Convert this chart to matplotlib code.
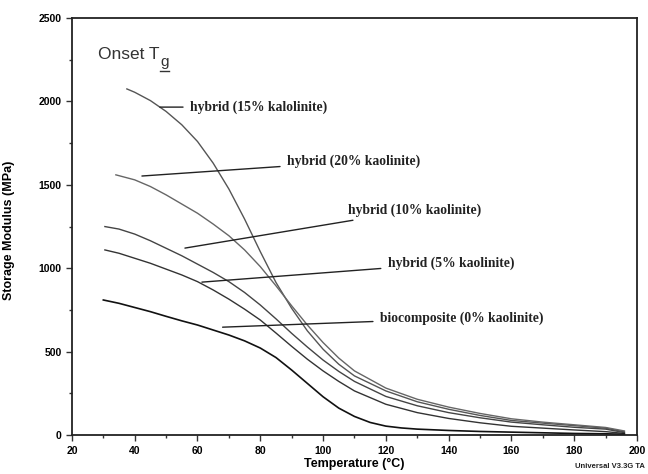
import matplotlib
matplotlib.use("Agg")
import matplotlib.pyplot as plt

# storage modulus (MPa) vs temperature (C)
t_15 = [37.5, 40, 45, 50, 55, 60, 65, 70, 75, 80, 85, 90, 95, 100, 105, 110,
        120, 130, 140, 150, 160, 170, 180, 190, 196]
m_15 = [2075, 2055, 2005, 1940, 1860, 1760, 1630, 1475, 1295, 1100, 915, 760,
        625, 515, 425, 355, 265, 200, 155, 118, 88, 72, 57, 42, 20]

t_20 = [34, 40, 45, 50, 55, 60, 65, 70, 75, 80, 85, 90, 95, 100, 105, 110,
        120, 130, 140, 150, 160, 170, 180, 190, 196]
m_20 = [1560, 1530, 1490, 1440, 1385, 1330, 1265, 1195, 1110, 1010, 895, 775,
        660, 555, 462, 385, 282, 215, 168, 130, 98, 78, 62, 46, 25]

t_10 = [30.5, 35, 40, 45, 50, 55, 60, 65, 70, 75, 80, 85, 90, 95, 100, 105,
        110, 120, 130, 140, 150, 160, 170, 180, 190, 196]
m_10 = [1250, 1235, 1205, 1165, 1120, 1075, 1025, 975, 920, 855, 780, 697, 610,
        528, 450, 382, 322, 232, 176, 135, 104, 78, 62, 47, 36, 15]

t_05 = [30.5, 35, 40, 45, 50, 55, 60, 65, 70, 75, 80, 85, 90, 95, 100, 105,
        110, 120, 130, 140, 150, 160, 170, 180, 190, 196]
m_05 = [1110, 1090, 1060, 1030, 995, 960, 920, 870, 815, 755, 690, 612, 532,
        455, 385, 322, 265, 185, 135, 100, 74, 53, 42, 31, 21, 10]

t_00 = [30, 35, 40, 45, 50, 55, 60, 65, 70, 75, 80, 85, 90, 95, 100, 105, 110,
        115, 120, 125, 130, 140, 150, 160, 170, 180, 190, 196]
m_00 = [810, 790, 765, 740, 712, 685, 660, 630, 600, 565, 522, 465, 390, 310,
        230, 162, 112, 76, 54, 43, 36, 28, 22, 18, 14, 10, 8, 5]

labels = ["hybrid (15% kalolinite)", "hybrid (20% kaolinite)",
          "hybrid (10% kaolinite)", "hybrid (5% kaolinite)",
          "biocomposite (0% kaolinite)"]
# leader line start (on curve) and label anchor, in data units
leader_from = [(48, 1966), (42.3, 1553), (56, 1121), (61.4, 917), (68, 647)]
label_at = [(57.6, 1966), (88.5, 1640), (107.9, 1349), (120.6, 1031),
            (118.1, 701)]

fig = plt.figure(figsize=(6.48, 4.74), dpi=100)
ax = fig.add_axes([0.111, 0.082, 0.872, 0.880])

ax.plot(t_15, m_15, color="#555555", lw=1.0)
ax.plot(t_20, m_20, color="#666666", lw=1.0)
ax.plot(t_10, m_10, color="#444444", lw=1.0)
ax.plot(t_05, m_05, color="#333333", lw=1.0)
ax.plot(t_00, m_00, color="#111111", lw=1.2)

for lab, p0, p1 in zip(labels, leader_from, label_at):
    ax.annotate(lab, xy=p0, xytext=p1, ha="left", va="center",
                fontsize=9.8, fontweight="bold", family="Liberation Serif",
                color="#222222",
                arrowprops=dict(arrowstyle="-", color="#222222", lw=1.0,
                                shrinkA=3, shrinkB=0))

ax.text(0.046, 0.913, "Onset T", transform=ax.transAxes, fontsize=12.5,
        family="Liberation Sans", color="#333333", va="center")
ax.text(0.156, 0.895, "g", transform=ax.transAxes, fontsize=11,
        family="Liberation Sans", color="#333333", va="center")
ax.plot([0.156, 0.171], [0.872, 0.872], transform=ax.transAxes,
        color="#333333", lw=1.0)

ax.set_xlim(20, 200)
ax.set_ylim(0, 2500)
ax.set_xticks(range(20, 201, 20))
ax.set_xticks(range(30, 200, 20), minor=True)
ax.set_yticks(range(0, 2501, 500))
ax.set_yticks(range(250, 2500, 500), minor=True)
ax.tick_params(which="both", direction="out", labelsize=7.5, width=1.0,
               color="#333333")
ax.tick_params(which="major", length=4)
ax.tick_params(which="minor", length=2.5)
for lab in ax.get_xticklabels() + ax.get_yticklabels():
    lab.set_fontweight("bold")
    lab.set_family("Liberation Sans")
for sp in ax.spines.values():
    sp.set_linewidth(1.3)
    sp.set_color("#222222")

ax.set_xlabel("Temperature (°C)", fontsize=9, fontweight="bold",
              family="Liberation Sans")
ax.xaxis.set_label_coords(0.5, -0.055)
ax.set_ylabel("Storage Modulus (MPa)", fontsize=9, fontweight="bold",
              family="Liberation Sans")
ax.yaxis.set_label_coords(-0.1, 0.49)

fig.text(0.887, 0.012, "Universal V3.3G TA", fontsize=5.5, fontweight="bold",
         family="Liberation Sans", color="#222222")

fig.savefig("out.png", dpi=100)
